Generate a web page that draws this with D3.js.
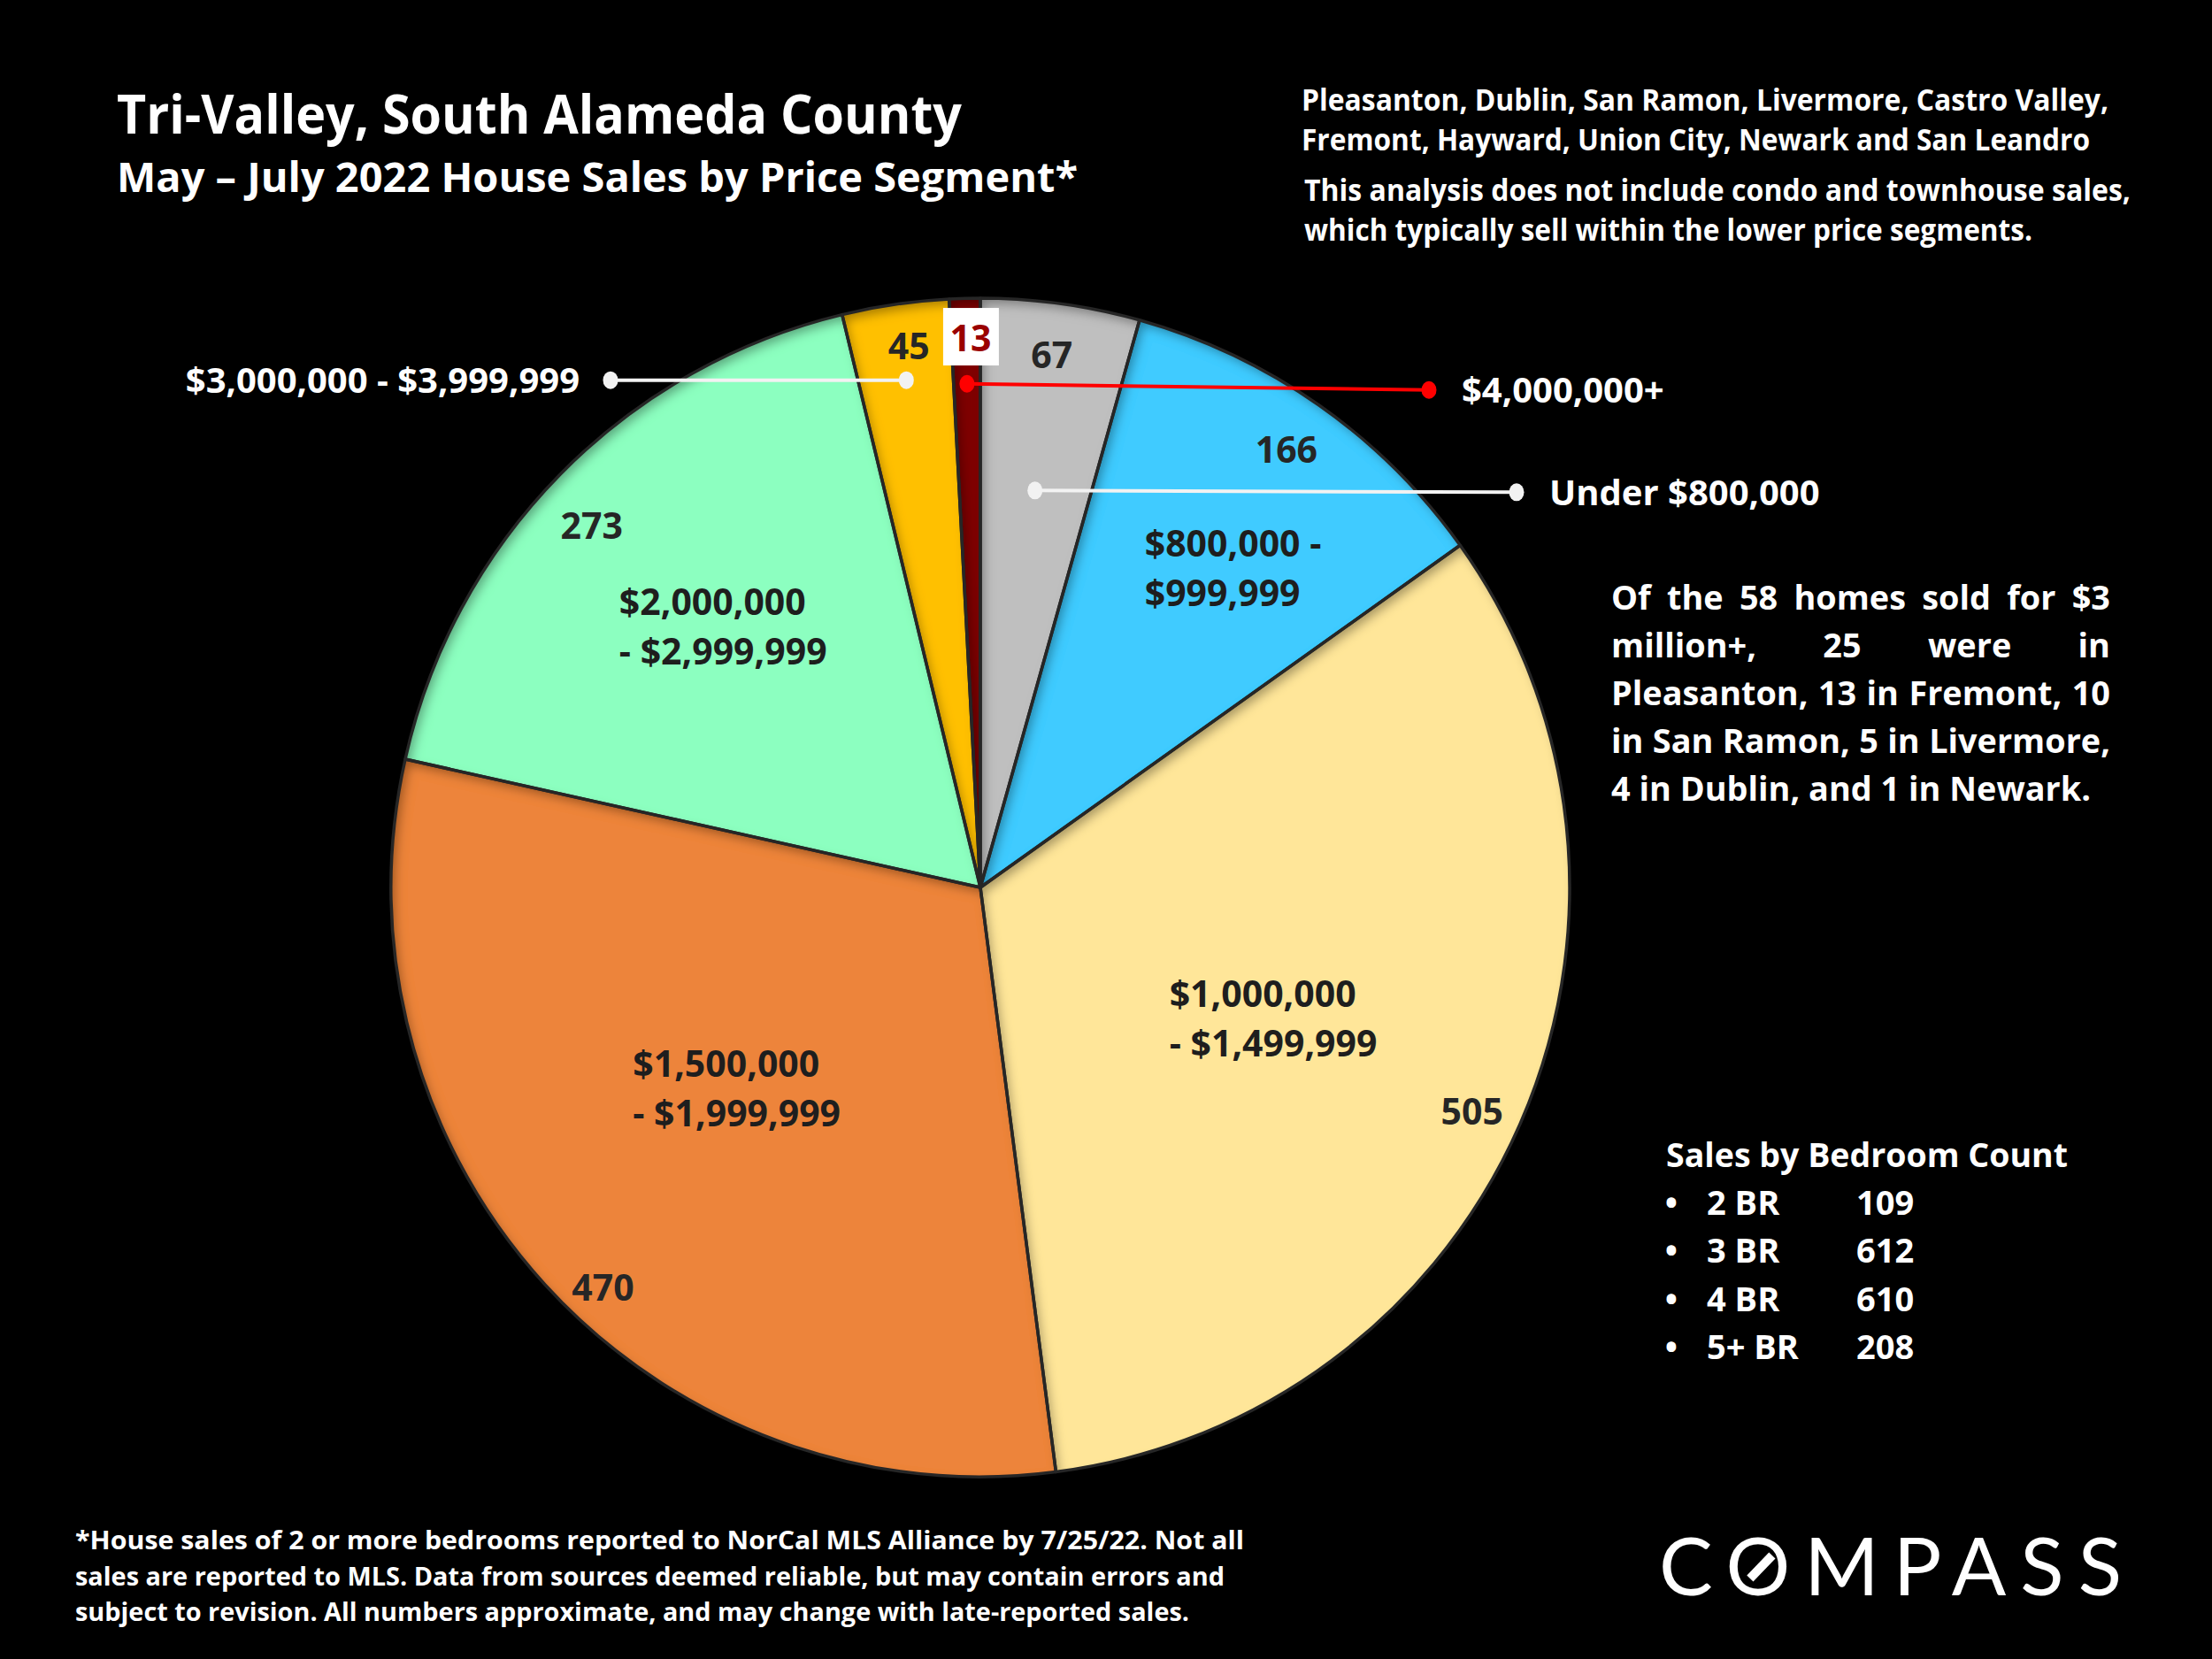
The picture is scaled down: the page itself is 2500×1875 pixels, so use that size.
<!DOCTYPE html>
<html>
<head>
<meta charset="utf-8">
<script src="https://cdn.jsdelivr.net/npm/d3@7"></script>
<style>
html,body{margin:0;padding:0;background:#000;}
svg{display:block;}
</style>
</head>
<body>
<script>
// ---------------- DATA ----------------
const categories = [
  "Under $800,000",
  "$800,000 - $999,999",
  "$1,000,000 - $1,499,999",
  "$1,500,000 - $1,999,999",
  "$2,000,000 - $2,999,999",
  "$3,000,000 - $3,999,999",
  "$4,000,000+"
];
const sales = [67, 166, 505, 470, 273, 45, 13];
const insideLabelLines = [
  null,
  ["$800,000 -", "$999,999"],
  ["$1,000,000", "- $1,499,999"],
  ["$1,500,000", "- $1,999,999"],
  ["$2,000,000", "- $2,999,999"],
  null,
  null
];
const bedroomTypes = ["2 BR", "3 BR", "4 BR", "5+ BR"];
const bedroomSales = [109, 612, 610, 208];
const titleLines = ["Tri-Valley, South Alameda County", "May \u2013 July 2022 House Sales by Price Segment*"];
const areaLines = ["Pleasanton, Dublin, San Ramon, Livermore, Castro Valley,", "Fremont, Hayward, Union City, Newark and San Leandro"];
const scopeLines = ["This analysis does not include condo and townhouse sales,", "which typically sell within the lower price segments."];
const noteLines = ["Of the 58 homes sold for $3", "million+, 25 were in", "Pleasanton, 13 in Fremont, 10", "in San Ramon, 5 in Livermore,", "4 in Dublin, and 1 in Newark."];
const footLines = [
  "*House sales of 2 or more bedrooms reported to NorCal MLS Alliance by 7/25/22. Not all",
  "sales are reported to MLS. Data from sources deemed reliable, but may contain errors and",
  "subject to revision. All numbers approximate, and may change with late-reported sales."
];

// ---------------- STYLE ----------------
const sliceColors = ["#BFBFBF", "#3FCBFF", "#FFE699", "#ED843B", "#8CFFC0", "#FFC000", "#7F0000"];
const FONT = "'Open Sans', 'Noto Sans', sans-serif";
const W = 2500, H = 1875;

const svg = d3.select("body").append("svg").attr("width", W).attr("height", H);
svg.append("rect").attr("width", W).attr("height", H).attr("fill", "#000");

const defs = svg.append("defs");
const f = defs.append("filter").attr("id", "innerShadow")
  .attr("filterUnits", "userSpaceOnUse")
  .attr("x", -900).attr("y", -900).attr("width", 1800).attr("height", 1800);
f.append("feComponentTransfer").attr("in", "SourceAlpha").attr("result", "inv")
  .append("feFuncA").attr("type", "table").attr("tableValues", "1 0");
f.append("feOffset").attr("in", "inv").attr("dx", 5).attr("dy", 7).attr("result", "off");
f.append("feGaussianBlur").attr("in", "off").attr("stdDeviation", 6).attr("result", "blur");
f.append("feFlood").attr("flood-color", "#000").attr("flood-opacity", 0.6).attr("result", "col");
f.append("feComposite").attr("in", "col").attr("in2", "blur").attr("operator", "in").attr("result", "sh");
f.append("feComposite").attr("in", "sh").attr("in2", "SourceAlpha").attr("operator", "in").attr("result", "clip");
const fm = f.append("feMerge");
fm.append("feMergeNode").attr("in", "SourceGraphic");
fm.append("feMergeNode").attr("in", "clip");

function addText(g, str, x, y, o = {}) {
  const t = g.append("text").attr("x", x).attr("y", y)
    .attr("font-family", o.family || FONT)
    .attr("font-weight", o.weight || 700)
    .attr("font-size", o.size || 40)
    .attr("fill", o.fill || "#fff")
    .attr("text-anchor", o.anchor || "start")
    .text(str);
  if (o.baseline) t.attr("dominant-baseline", o.baseline);
  if (o.width) t.attr("textLength", o.width).attr("lengthAdjust", o.adjust || "spacingAndGlyphs");
  return t;
}

// ---------------- PIE ----------------
const cx = 1108, cy = 1003, R = 666;
const color = d3.scaleOrdinal().domain(categories).range(sliceColors);
const arcs = d3.pie().sort(null).value(d => d)(sales);
const arcGen = d3.arc().innerRadius(0).outerRadius(R);
const pg = svg.append("g").attr("transform", `translate(${cx},${cy})`);

pg.selectAll("path.fill").data(arcs).join("path").attr("class", "fill")
  .attr("d", arcGen).attr("fill", (d, i) => color(categories[i]))
  .attr("filter", "url(#innerShadow)");
pg.selectAll("path.edge").data(arcs).join("path").attr("class", "edge")
  .attr("d", arcGen).attr("fill", "none").attr("stroke", "#262626")
  .attr("stroke-width", 3.5).attr("stroke-linejoin", "round");

function polar(d, rf, dA = 0) {
  const a = (d.startAngle + d.endAngle) / 2 + dA * Math.PI / 180;
  return [rf * R * Math.sin(a), -rf * R * Math.cos(a)];
}

// value labels (radius fraction, angle tweak in degrees)
const valueLayout = [[0.913, -0.2], [0.908, -0.2], [0.916, 0.8], [0.932, -4.2], [0.902, -1.5], [0.929, 0.8], [0.934, 0.5]];
arcs.forEach((d, i) => {
  const [x, y] = polar(d, valueLayout[i][0], valueLayout[i][1]);
  if (i === 6) {
    pg.append("rect").attr("x", x - 31).attr("y", y - 33).attr("width", 63).attr("height", 65).attr("fill", "#fff");
    addText(pg, String(sales[i]), x, y, { anchor: "middle", baseline: "central", size: 41, fill: "#9A0000" });
  } else {
    addText(pg, String(sales[i]), x, y, { anchor: "middle", baseline: "central", size: 41, fill: "#262626" });
  }
});

// inside category labels (left-aligned two-line blocks)
const insideLayout = { 1: [0.692, 3.2], 2: [0.544, 0.4], 3: [0.535, 3], 4: [0.623, 1] };
arcs.forEach((d, i) => {
  const lines = insideLabelLines[i];
  if (!lines) return;
  const [rf, dA] = insideLayout[i];
  const [x, y] = polar(d, rf, dA);
  const tg = pg.append("g");
  const ts = lines.map((l, k) => addText(tg, l, 0, y + (k - 0.5) * 56, { baseline: "central", size: 41, fill: "#1E1E1E" }));
  const bw = d3.max(ts, t => t.node().getComputedTextLength());
  ts.forEach(t => t.attr("x", x - bw / 2));
});

// callouts
const callouts = [
  { i: 5, rf: 0.87, toX: 690, dy: 0, textX: 655, anchor: "end", col: "#F2F2F2" },
  { i: 6, rf: 0.855, toX: 1615, dy: 7, textX: 1652, anchor: "start", col: "#FF0000" },
  { i: 0, rf: 0.68, toX: 1714, dy: 2, textX: 1751, anchor: "start", col: "#F2F2F2" }
];
const cg = svg.append("g");
callouts.forEach(c => {
  const [px, py] = polar(arcs[c.i], c.rf);
  const x1 = cx + px, y1 = cy + py, x2 = c.toX, y2 = y1 + c.dy;
  cg.append("line").attr("x1", x1).attr("y1", y1).attr("x2", x2).attr("y2", y2)
    .attr("stroke", c.col).attr("stroke-width", 4);
  cg.append("ellipse").attr("cx", x1).attr("cy", y1).attr("rx", 8.5).attr("ry", 10).attr("fill", c.col);
  cg.append("ellipse").attr("cx", x2).attr("cy", y2).attr("rx", 8.5).attr("ry", 10).attr("fill", c.col);
  addText(cg, categories[c.i], c.textX, y2 - 1, { anchor: c.anchor, baseline: "central", size: 40, fill: "#fff" });
});

// ---------------- TEXT BLOCKS ----------------
const tg = svg.append("g");
addText(tg, titleLines[0], 132, 151, { size: 61, width: 955 });
addText(tg, titleLines[1], 132, 217, { size: 46, width: 1086 });

addText(tg, areaLines[0], 1471, 125, { size: 34, width: 912 });
addText(tg, areaLines[1], 1471, 170, { size: 34, width: 891 });
addText(tg, scopeLines[0], 1474, 227, { size: 34, width: 934 });
addText(tg, scopeLines[1], 1474, 272, { size: 34, width: 823 });

// justified paragraph
(function () {
  const x0 = 1821, x1 = 2385, size = 38, lh = 54, y0 = 689;
  const probe = addText(tg, noteLines[4], 0, -100, { size });
  const k = 542 / probe.node().getComputedTextLength();
  probe.remove();
  const spaceProbe = addText(tg, "a a", 0, -100, { size });
  const aProbe = addText(tg, "aa", 0, -100, { size });
  const spW = (spaceProbe.node().getComputedTextLength() - aProbe.node().getComputedTextLength()) * k;
  spaceProbe.remove(); aProbe.remove();
  noteLines.forEach((line, li) => {
    const words = line.split(" ");
    const y = y0 + li * lh;
    const ts = words.map(w => {
      const t = addText(tg, w, 0, y, { size });
      const nw = t.node().getComputedTextLength() * k;
      t.attr("textLength", nw).attr("lengthAdjust", "spacingAndGlyphs");
      return { t, w: nw };
    });
    const sum = d3.sum(ts, d => d.w);
    const gap = li < noteLines.length - 1 ? (x1 - x0 - sum) / (words.length - 1) : spW;
    let x = x0;
    ts.forEach(d => { d.t.attr("x", x); x += d.w + gap; });
  });
})();

// bedroom counts
addText(tg, "Sales by Bedroom Count", 1883, 1319, { size: 38, width: 454 });
bedroomTypes.forEach((b, i) => {
  const y = 1373 + i * 54.3;
  addText(tg, "\u2022", 1889, y, { size: 38, anchor: "middle" });
  addText(tg, b, 1929, y, { size: 38 });
  addText(tg, String(bedroomSales[i]), 2098, y, { size: 38 });
});

// footnote
const footW = [1321, 1299, 1259];
footLines.forEach((l, i) => addText(tg, l, 85, 1751 + i * 40.5, { size: 29, width: footW[i] }));

// logo
const logo = addText(tg, "COMPASS", 1875, 1803, { family: "Lato, 'Open Sans', sans-serif", weight: 400, size: 91, width: 523, adjust: "spacing" });
try {
  const ext = logo.node().getExtentOfChar(1);
  const ocx = ext.x + ext.width / 2 + 3, ocy = 1803 - 32;
  tg.append("line").attr("x1", ocx - 12).attr("y1", ocy + 13).attr("x2", ocx + 13).attr("y2", ocy - 13)
    .attr("stroke", "#fff").attr("stroke-width", 10);
} catch (e) {}
</script>
</body>
</html>
